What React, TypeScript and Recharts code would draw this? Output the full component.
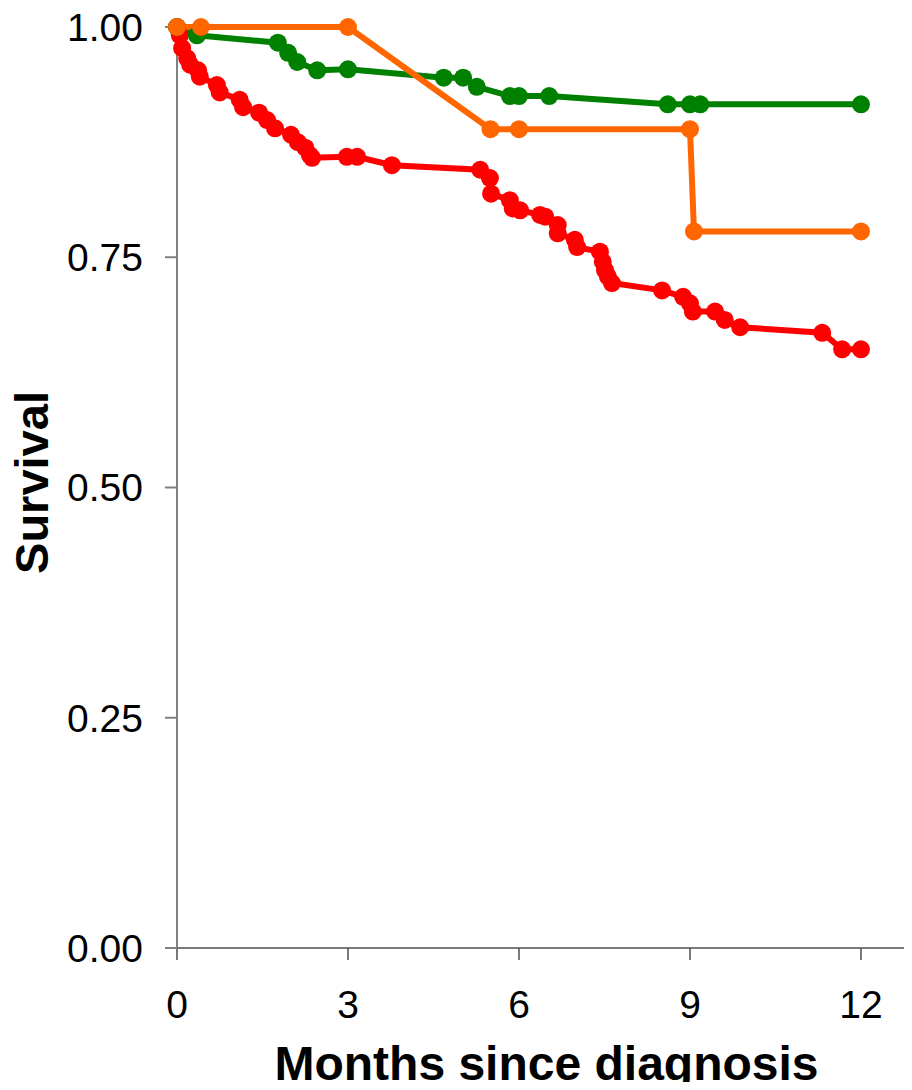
import React from "react";
import { LineChart, Line, XAxis, YAxis, Label } from "recharts";

// Kaplan-Meier style curves (months, survival)
const redMonths = [
  0, 0.05, 0.09, 0.18, 0.23, 0.37, 0.4, 0.7, 0.75, 1.1, 1.16, 1.44, 1.58, 1.72,
  2.0, 2.12, 2.25, 2.33, 2.37, 2.98, 3.16, 3.77, 5.32, 5.49, 5.51, 5.84, 5.89,
  6.02, 6.37, 6.46, 6.68, 6.68, 6.98, 7.02, 7.42, 7.47, 7.51, 7.56, 7.63, 8.51,
  8.88, 9.0, 9.05, 9.44, 9.61, 9.88, 11.32, 11.67, 12.0,
];
const redSurvival = [
  1.0, 0.991, 0.977, 0.966, 0.959, 0.953, 0.946, 0.937, 0.929, 0.921, 0.913,
  0.907, 0.899, 0.89, 0.883, 0.875, 0.869, 0.861, 0.858, 0.859, 0.859, 0.85,
  0.845, 0.836, 0.819, 0.812, 0.803, 0.801, 0.796, 0.794, 0.785, 0.776, 0.769,
  0.761, 0.756, 0.745, 0.736, 0.729, 0.722, 0.714, 0.707, 0.7, 0.691, 0.691,
  0.682, 0.674, 0.668, 0.65, 0.65,
];

const greenMonths = [
  0, 0.35, 1.77, 1.95, 2.11, 2.46, 3.0, 4.68, 5.02, 5.26, 5.84, 6.0, 6.53, 8.61,
  9.0, 9.18, 12.0,
];
const greenSurvival = [
  1.0, 0.991, 0.983, 0.972, 0.962, 0.953, 0.954, 0.945, 0.945, 0.935, 0.925,
  0.925, 0.925, 0.916, 0.916, 0.916, 0.916,
];

const orangeMonths = [0, 0.42, 3.0, 5.5, 6.0, 9.0, 9.07, 12.0];
const orangeSurvival = [1, 1, 1, 0.889, 0.889, 0.889, 0.778, 0.778];

const monthTicks = [0, 3, 6, 9, 12];
const survivalTicks = [0, 0.25, 0.5, 0.75, 1];

const toPoints = (months: number[], surv: number[]) =>
  months.map((m, i) => ({ m, s: surv[i] }));

const redData = toPoints(redMonths, redSurvival);
const greenData = toPoints(greenMonths, greenSurvival);
const orangeData = toPoints(orangeMonths, orangeSurvival);

const FONT = "'Liberation Sans', Arial, sans-serif";

const XTitle = (props: any) => {
  const { viewBox } = props;
  return (
    <text
      x={viewBox.x + viewBox.width / 2 + 2}
      y={1080}
      textAnchor="middle"
      fontFamily={FONT}
      fontWeight="bold"
      fontSize={48}
      fill="#000"
    >
      Months since diagnosis
    </text>
  );
};

const YTitle = (props: any) => {
  const { viewBox } = props;
  const cy = viewBox.y + viewBox.height / 2 - 5;
  return (
    <g transform={`translate(48 ${cy}) rotate(-90)`}>
      <text
        x={0}
        y={0}
        textAnchor="middle"
        fontFamily={FONT}
        fontWeight="bold"
        fontSize={47}
        fill="#000"
      >
        Survival
      </text>
    </g>
  );
};

const series = [
  { key: "red", data: redData, color: "#FF0000" },
  { key: "green", data: greenData, color: "#008000" },
  { key: "orange", data: orangeData, color: "#FF6600" },
];

export default function App() {
  // cancel the body margin so the chart fills the 912x1090 window exactly
  return (
    <div style={{ margin: -8 }}>
      <LineChart
        width={912}
        height={1090}
        margin={{ top: 27, right: 0, bottom: 0, left: 0 }}
      >
        <XAxis
          type="number"
          dataKey="m"
          domain={[0, 12.895]}
          ticks={monthTicks}
          allowDuplicatedCategory={false}
          height={142}
          tickSize={12}
          tickMargin={30}
          stroke="#4d4d4d"
          strokeWidth={1.5}
          tick={{ fill: "#000", fontSize: 39, fontFamily: FONT }}
        >
          <Label content={<XTitle />} />
        </XAxis>
        <YAxis
          type="number"
          dataKey="s"
          domain={[0, 1]}
          ticks={survivalTicks}
          width={177}
          tickSize={12}
          tickMargin={22}
          stroke="#808080"
          strokeWidth={2}
          tickFormatter={(v: number) => v.toFixed(2)}
          tick={{ fill: "#000", fontSize: 39, fontFamily: FONT }}
        >
          <Label content={<YTitle />} />
        </YAxis>
        {series.map((s) => (
          <Line
            key={s.key}
            data={s.data}
            dataKey="s"
            type="linear"
            stroke={s.color}
            strokeWidth={6}
            dot={{ r: 9, fill: s.color, stroke: "none" }}
            activeDot={false}
            isAnimationActive={false}
          />
        ))}
      </LineChart>
    </div>
  );
}
